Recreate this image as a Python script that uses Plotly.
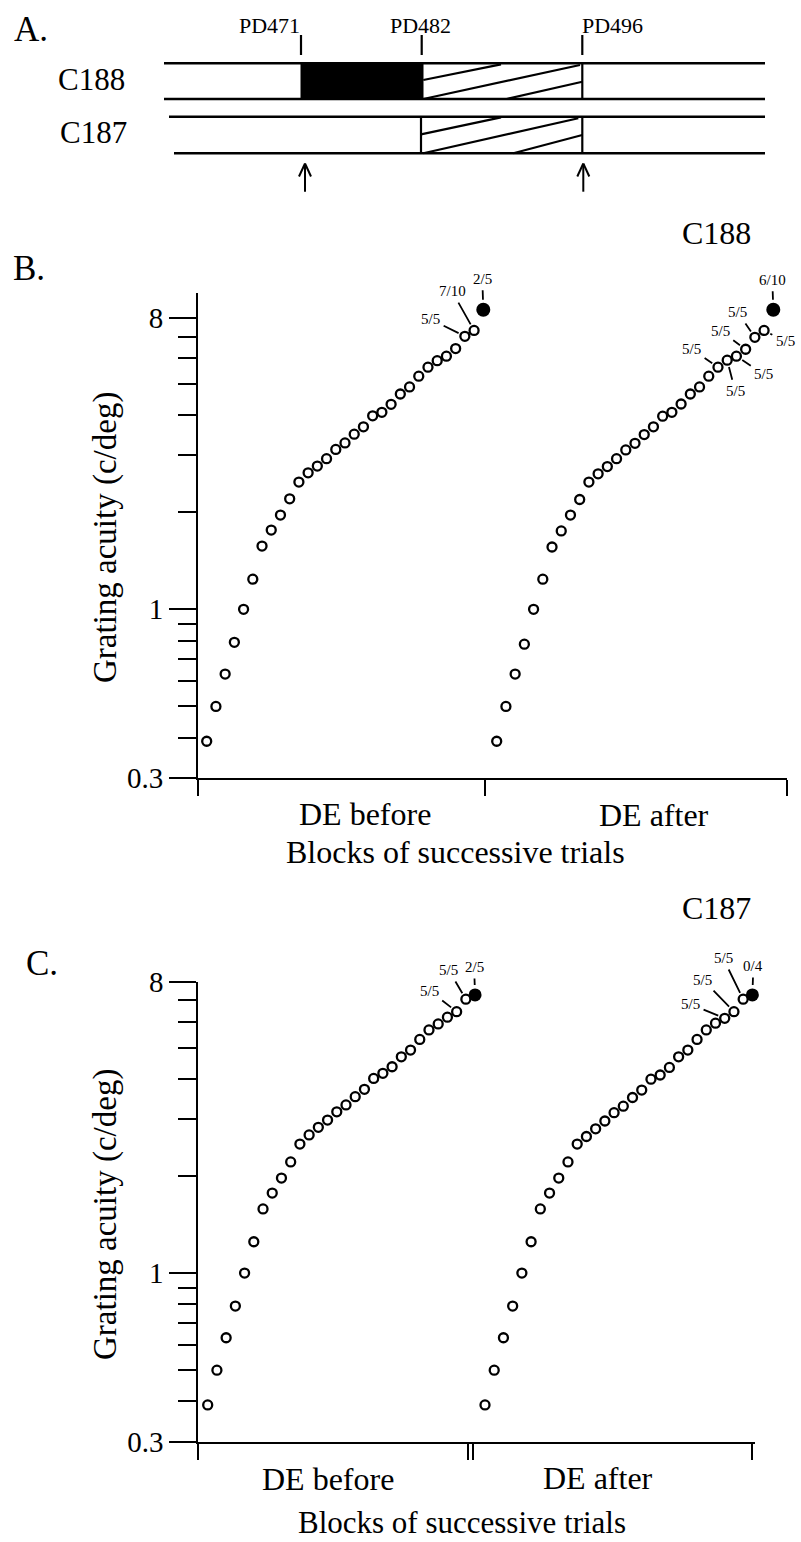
import numpy as np
import plotly.graph_objects as go

W, H = 801, 1542
FONT = "Liberation Serif, Times New Roman, serif"

# ---------------- data ----------------
# Panel B (C188): grating acuity (c/deg) per block of successive trials
b_before_vals = [0.39, 0.50, 0.63, 0.79, 1.0, 1.24, 1.57, 1.76, 1.96, 2.20,
                 2.48, 2.65, 2.78, 2.93, 3.13, 3.28, 3.49, 3.68, 3.98, 4.08,
                 4.32, 4.65, 4.89, 5.28, 5.63, 5.90, 6.09, 6.43, 7.02, 7.32]
b_before_fail = 8.48
b_after_vals = [0.39, 0.50, 0.63, 0.78, 1.0, 1.24, 1.56, 1.75, 1.96, 2.19,
                2.48, 2.63, 2.77, 2.93, 3.12, 3.27, 3.48, 3.68, 3.97, 4.08,
                4.33, 4.65, 4.89, 5.28, 5.63, 5.92, 6.09, 6.40, 6.97, 7.32]
b_after_fail = 8.48

# Panel C (C187)
c_before_vals = [0.39, 0.50, 0.63, 0.79, 1.0, 1.25, 1.58, 1.77, 1.97, 2.21,
                 2.51, 2.68, 2.83, 2.98, 3.16, 3.32, 3.52, 3.71, 4.01, 4.16,
                 4.36, 4.68, 4.91, 5.30, 5.67, 5.92, 6.21, 6.46, 7.06]
c_before_fail = 7.28
c_after_vals = [0.39, 0.50, 0.63, 0.79, 1.0, 1.25, 1.58, 1.77, 1.97, 2.21,
                2.51, 2.65, 2.80, 2.96, 3.14, 3.29, 3.50, 3.69, 3.99, 4.11,
                4.34, 4.68, 4.91, 5.30, 5.67, 5.95, 6.16, 6.46, 7.06]
c_after_fail = 7.28

# score labels: (text, block number)
b_before_labels = [("2/5", 31), ("7/10", 30), ("5/5", 29)]
b_after_labels = [("6/10", 31), ("5/5", 29), ("5/5", 28), ("5/5", 25),
                  ("5/5", 30), ("5/5", 27), ("5/5", 26)]
c_before_labels = [("2/5", 30), ("5/5", 29), ("5/5", 28)]
c_after_labels = [("0/4", 30), ("5/5", 29), ("5/5", 28), ("5/5", 27)]

y_major_vals = [0.3, 1, 8]
y_major_text = ["0.3", "1", "8"]
y_minor_vals = [0.4, 0.5, 0.6, 0.7, 0.8, 0.9, 2, 3, 4, 5, 6, 7]

# Panel A schematic
pd_names = ["PD471", "PD482", "PD496"]
strain_names = ["C188", "C187"]


# ---------------- helpers ----------------
def fx(px):
    return px / W


def fy(py):
    return 1 - py / H


def blocks(vals, start=1):
    return list(range(start, start + len(vals)))


fig = go.Figure()

open_marker = dict(symbol="circle-open", size=9, color="black",
                   line=dict(width=2.3, color="black"))


def add_series(vals, fail, xa, ya, fail_size):
    xs = blocks(vals)
    fig.add_trace(go.Scatter(x=xs, y=vals, mode="markers", marker=open_marker,
                             xaxis=xa, yaxis=ya, cliponaxis=False, showlegend=False,
                             hoverinfo="x+y"))
    fig.add_trace(go.Scatter(x=[len(vals) + 1], y=[fail], mode="markers",
                             marker=dict(symbol="circle", size=fail_size, color="black"),
                             xaxis=xa, yaxis=ya, cliponaxis=False, showlegend=False,
                             hoverinfo="x+y"))


add_series(b_before_vals, b_before_fail, "x", "y", 14)
add_series(b_after_vals, b_after_fail, "x2", "y", 14)
add_series(c_before_vals, c_before_fail, "x3", "y2", 13)
add_series(c_after_vals, c_after_fail, "x4", "y2", 13)

# ---------------- axes ----------------
PX_PER_DEC = 322.6
STEP = 9.22  # px per block
b_top = np.log10(0.3) + (778 - 293) / PX_PER_DEC


def blk(px, first_px):
    return 1 + (px - first_px) / STEP


yax_common = dict(type="log", showline=True, linecolor="black", linewidth=2,
                  showgrid=False, zeroline=False, ticks="outside", ticklen=27,
                  tickwidth=2, tickcolor="black", tickmode="array",
                  tickvals=y_major_vals, ticktext=y_major_text, automargin=False,
                  tickfont=dict(family=FONT, size=29, color="black"),
                  minor=dict(tickmode="array", tickvals=y_minor_vals, ticks="outside",
                             ticklen=18, tickwidth=2, tickcolor="black", showgrid=False))

xax_common = dict(showline=True, linecolor="black", linewidth=2, showgrid=False,
                  zeroline=False, ticks="outside", ticklen=16, tickwidth=2,
                  tickcolor="black", showticklabels=False, tickmode="array",
                  automargin=False)

eps = 1e-3
b_x1 = [blk(198, 206.7), blk(485, 206.7)]
b_x2 = [blk(485, 496.7), blk(787, 496.7)]
c_x1 = [blk(198.3, 207.7), blk(479, 207.7)]
c_break1 = blk(468.3, 207.7)
c_x2 = [blk(473.3, 485), blk(755, 485)]
c_end2 = blk(751.7, 485)

fig.update_layout(
    xaxis=dict(xax_common, domain=[fx(198), fx(485)], range=b_x1, anchor="y",
               tickvals=[b_x1[0] + eps, b_x1[1] - eps]),
    xaxis2=dict(xax_common, domain=[fx(485), fx(787)], range=b_x2, anchor="y",
                tickvals=[b_x2[1] - eps]),
    yaxis=dict(yax_common, domain=[fy(778), fy(293)], range=[np.log10(0.3), b_top], anchor="x"),
    xaxis3=dict(xax_common, domain=[fx(198.3), fx(479)], range=c_x1, anchor="y2",
                tickvals=[c_x1[0] + eps, c_break1]),
    xaxis4=dict(xax_common, domain=[fx(473.3), fx(755)], range=c_x2, anchor="y2",
                tickvals=[c_x2[0] + eps, c_end2]),
    yaxis2=dict(yax_common, domain=[fy(1441.7), fy(981.7)],
                range=[np.log10(0.3), np.log10(8)], anchor="x3"),
)

annotations = []


def txt(text, px, py, size, xanchor="center", yanchor="middle", angle=0):
    annotations.append(dict(text=text, x=fx(px), y=fy(py), xref="paper", yref="paper",
                            showarrow=False, xanchor=xanchor, yanchor=yanchor,
                            textangle=angle,
                            font=dict(family=FONT, size=size, color="black")))


# score labels with leader lines
def score_labels(labels, vals, fail, xa, ya, offsets):
    for (t, b), (ax, ay) in zip(labels, offsets):
        is_fail = b == len(vals) + 1
        v = fail if is_fail else vals[b - 1]
        annotations.append(dict(text=t, x=b, y=np.log10(v), xref=xa, yref=ya,
                                showarrow=True, arrowhead=0, arrowwidth=1.8,
                                arrowcolor="black", ax=ax, ay=ay,
                                standoff=10 if is_fail else 7, startstandoff=2,
                                font=dict(family=FONT, size=15, color="black")))


score_labels(b_before_labels, b_before_vals, b_before_fail, "x", "y",
             [(-1, -31), (-22, -39), (-34, -17)])
score_labels(b_after_labels, b_after_vals, b_after_fail, "x2", "y",
             [(-1, -30), (-17, -25), (-25, -18), (-26, -18), (21, 11), (27, 18), (8, 31)])
score_labels(c_before_labels, c_before_vals, c_before_fail, "x3", "y2",
             [(-1, -28), (-17, -29), (-27, -21)])
score_labels(c_after_labels, c_after_vals, c_after_fail, "x4", "y2",
             [(1, -29), (-20, -41), (-31, -32), (-34, -14)])

# panel letters and titles
txt("A.", 31, 29, 35)
txt("B.", 29, 268, 35)
txt("C.", 42, 963, 35)
txt("C188", 716, 233, 32)
txt("C187", 716, 908, 32)

# axis titles
for cy in (537, 1214):
    txt("Grating acuity (c/deg)", 105, cy, 33, angle=-90)
txt("DE before", 365, 814, 32)
txt("DE after", 654, 815, 32)
txt("Blocks of successive trials", 455, 852, 32)
txt("DE before", 328, 1479, 32)
txt("DE after", 598, 1478, 32)
txt("Blocks of successive trials", 462, 1522, 31)

# panel A text
txt(pd_names[0], 302, 25, 22, xanchor="right")
txt(pd_names[1], 421, 25, 22)
txt(pd_names[2], 580, 25, 22, xanchor="left")
txt(strain_names[0], 91, 79, 31)
txt(strain_names[1], 93, 132, 31)

# ---------------- panel A shapes ----------------
shapes = []


def seg(x0, y0, x1, y1, w=2.2):
    shapes.append(dict(type="line", xref="paper", yref="paper",
                       x0=fx(x0), y0=fy(y0), x1=fx(x1), y1=fy(y1),
                       line=dict(color="black", width=w)))


R = 765
# C188 row
seg(164, 63.3, R, 63.3, 2.5)
seg(164, 99, R, 99, 2.5)
shapes.append(dict(type="rect", xref="paper", yref="paper",
                   x0=fx(301), x1=fx(423), y0=fy(99), y1=fy(63.3),
                   fillcolor="black", line=dict(color="black", width=1)))
seg(582.3, 63.3, 582.3, 99)
seg(423.3, 80, 501, 64.3)
seg(423.3, 99, 580, 65)
seg(506.7, 99, 582.3, 81.7)
# C187 row
seg(169, 116.7, R, 116.7, 2.5)
seg(174, 153.3, R, 153.3, 2.5)
seg(421, 116.7, 421, 153.3)
seg(582.3, 116.7, 582.3, 153.3)
seg(421, 134.3, 501, 117.3)
seg(423.3, 153.3, 578.3, 118.3)
seg(513.3, 153.3, 582.3, 135)
# PD marker ticks
for px in (301, 421.7, 582.3):
    seg(px, 35, px, 55, 2.2)
# arrows
for px in (305, 583.3):
    seg(px, 191.7, px, 164, 2)
    seg(px - 6, 176.5, px, 163.5, 2)
    seg(px + 6, 176.5, px, 163.5, 2)

fig.update_layout(
    width=W, height=H, autosize=False,
    margin=dict(l=0, r=0, t=0, b=0, pad=0, autoexpand=False),
    paper_bgcolor="white", plot_bgcolor="rgba(0,0,0,0)",
    annotations=annotations, shapes=shapes, showlegend=False,
    font=dict(family=FONT, color="black"),
)

fig.write_html(
    "out.html",
    config={"displayModeBar": False, "responsive": False},
    post_script="document.body.style.margin='0';document.body.style.overflow='hidden';",
)
